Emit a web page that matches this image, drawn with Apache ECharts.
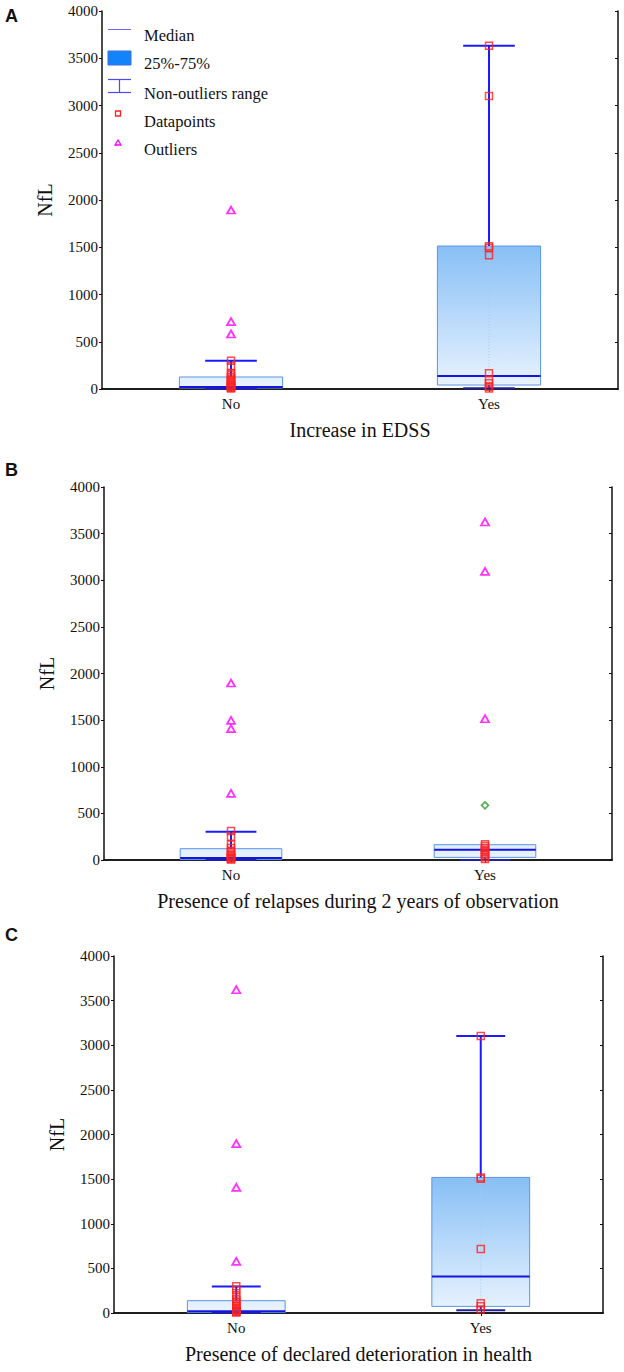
<!DOCTYPE html>
<html><head><meta charset="utf-8">
<script src="https://cdn.jsdelivr.net/npm/echarts@6/dist/echarts.min.js"></script>
<style>html,body{margin:0;padding:0;background:#fff}#c{width:624px;height:1372px}</style>
</head><body><div id="c"></div><script>
// ---------- data ----------
const categories = ['No', 'Yes'];
const yTickLabels = ['0', '500', '1000', '1500', '2000', '2500', '3000', '3500', '4000'];
const xTitles = ['Increase in EDSS', 'Presence of relapses during 2 years of observation', 'Presence of declared deterioration in health'];
const yTitle = 'NfL';
const panelLetters = ['A', 'B', 'C'];

// [low whisker, q1, median, q3, high whisker]
const boxA = [[0, 10, 20, 127, 300], [8, 42, 138, 1513, 3633]];
const boxB = [[0, 5, 21, 121, 303], [0, 28, 110, 164, 164]];
const boxC = [[0, 5, 20, 138, 298], [30, 74, 410, 1519, 3104]];

const pointsA_No = [300, 240, 170, 150, 130, 110, 95, 80, 65, 50, 40, 30, 20, 12, 5];
const pointsA_Yes = [3633, 3100, 1510, 1495, 1415, 166, 100, 60, 25, 5];
const pointsB_No = [310, 250, 165, 130, 100, 80, 60, 45, 30, 20, 10, 5];
const pointsB_Yes = [170, 150, 130, 110, 90, 70, 50, 30, 10];
const pointsC_No = [300, 260, 200, 160, 140, 120, 100, 80, 60, 45, 30, 20, 10, 5];
const pointsC_Yes = [3104, 1519, 1505, 717, 110, 75, 40];

const outliersA_No = [1894, 712, 582];
const outliersA_Yes = [];
const outliersB_No = [1898, 1497, 1408, 714];
const outliersB_Yes = [3625, 3095, 1515];
const outliersC_No = [3622, 1897, 1407, 578];
const outliersC_Yes = [];

const extremesB_Yes = [586];

// ---------- layout ----------
const grids = [
  { left: 102, top: 11, right: 6, height: 378 },
  { left: 104, top: 487, right: 12, height: 373 },
  { left: 114, top: 956, right: 21, height: 357 }
];
const letterY = [16, 470, 935];
const SERIF = '"Liberation Serif", "Times New Roman", serif';

const panels = [
  { box: boxA, pts: [pointsA_No, pointsA_Yes], out: [outliersA_No, outliersA_Yes], ext: [[], []] },
  { box: boxB, pts: [pointsB_No, pointsB_Yes], out: [outliersB_No, outliersB_Yes], ext: [[], extremesB_Yes] },
  { box: boxC, pts: [pointsC_No, pointsC_Yes], out: [outliersC_No, outliersC_Yes], ext: [[], []] }
];

function renderBox(params, api) {
  const c = api.value(0);
  const low = api.value(1), q1 = api.value(2), med = api.value(3), q3 = api.value(4), high = api.value(5);
  const band = api.size([1, 0])[0];
  const bw = band * 0.4, cw = band * 0.2;
  const P = v => api.coord([c, v]);
  const cx = P(q1)[0];
  const yLow = P(low)[1], yQ1 = P(q1)[1], yMed = P(med)[1], yQ3 = P(q3)[1], yHigh = P(high)[1];
  const gTop = P(1600)[1], gBot = P(0)[1];
  const blue = '#1a1aff';
  const ch = [];
  ch.push({ type: 'rect', shape: { x: cx - bw / 2, y: yQ3, width: bw, height: yQ1 - yQ3 },
    style: { fill: { type: 'linear', x: 0, y: gTop, x2: 0, y2: gBot, global: true,
      colorStops: [{ offset: 0, color: '#82bcf5' }, { offset: 1, color: '#eaf4ff' }] },
      stroke: '#5b95e5', lineWidth: 1 } });
  ch.push({ type: 'line', shape: { x1: cx, y1: yQ3, x2: cx, y2: yQ1 },
    style: { stroke: '#a4cbf2', lineWidth: 1, lineDash: [1, 2] } });
  if (high > q3) {
    ch.push({ type: 'line', shape: { x1: cx, y1: yQ3, x2: cx, y2: yHigh }, style: { stroke: blue, lineWidth: 2 } });
    ch.push({ type: 'line', shape: { x1: cx - cw / 2, y1: yHigh, x2: cx + cw / 2, y2: yHigh }, style: { stroke: blue, lineWidth: 2 } });
  }
  if (low < q1) {
    ch.push({ type: 'line', shape: { x1: cx, y1: yQ1, x2: cx, y2: yLow }, style: { stroke: blue, lineWidth: 2 } });
    ch.push({ type: 'line', shape: { x1: cx - cw / 2, y1: yLow, x2: cx + cw / 2, y2: yLow }, style: { stroke: '#2020a0', lineWidth: 2 } });
  }
  ch.push({ type: 'line', shape: { x1: cx - bw / 2, y1: yMed, x2: cx + bw / 2, y2: yMed }, style: { stroke: '#1515e0', lineWidth: 2 } });
  return { type: 'group', children: ch };
}

const option = {
  animation: false,
  backgroundColor: '#fff',
  grid: grids.map(g => Object.assign({ containLabel: false }, g)),
  xAxis: [], yAxis: [], series: [], graphic: []
};

panels.forEach((p, i) => {
  option.xAxis.push({
    type: 'category', gridIndex: i, data: categories, position: 'bottom',
    name: xTitles[i], nameLocation: 'middle', nameGap: 31,
    nameTextStyle: { fontFamily: SERIF, fontSize: 20, color: '#111' },
    axisLine: { show: true, lineStyle: { color: '#111', width: 1.5 } },
    axisTick: { show: true, inside: true, alignWithLabel: true, length: 3, lineStyle: { color: '#111' } },
    axisLabel: { fontFamily: SERIF, fontSize: 15, color: '#111', margin: 7 },
    splitLine: { show: false }
  });
  option.xAxis.push({
    type: 'category', gridIndex: i, data: categories, position: 'top',
    axisLine: { show: true, lineStyle: { color: '#111', width: 1.5 } },
    axisTick: { show: true, inside: true, alignWithLabel: true, length: 3, lineStyle: { color: '#111' } },
    axisLabel: { show: false }, splitLine: { show: false }
  });
  option.yAxis.push({
    type: 'value', gridIndex: i, min: 0, max: 4000, interval: 500, position: 'left',
    name: yTitle, nameLocation: 'middle', nameGap: 47,
    nameTextStyle: { fontFamily: SERIF, fontSize: 20, color: '#111' },
    axisLine: { show: true, lineStyle: { color: '#111', width: 1.5 } },
    axisTick: { show: true, length: 3, lineStyle: { color: '#111' } },
    axisLabel: { fontFamily: SERIF, fontSize: 15, color: '#111', margin: 4,
      formatter: v => yTickLabels[Math.round(v / 500)] },
    splitLine: { show: false }
  });
  option.yAxis.push({
    type: 'value', gridIndex: i, min: 0, max: 4000, interval: 500, position: 'right',
    axisLine: { show: true, lineStyle: { color: '#111', width: 1.5 } },
    axisTick: { show: true, inside: true, length: 3, lineStyle: { color: '#111' } },
    axisLabel: { show: false }, splitLine: { show: false }
  });

  const xi = 2 * i, yi = 2 * i;
  option.series.push({
    type: 'custom', name: '25%-75%', xAxisIndex: xi, yAxisIndex: yi,
    renderItem: renderBox, encode: { x: 0, y: [1, 2, 3, 4, 5] },
    data: p.box.map((b, k) => [k].concat(b)), z: 2
  });
  const pts = [], outs = [], exts = [];
  categories.forEach((cat, k) => {
    p.pts[k].forEach(v => pts.push([cat, v]));
    p.out[k].forEach(v => outs.push([cat, v]));
    p.ext[k].forEach(v => exts.push([cat, v]));
  });
  option.series.push({
    type: 'scatter', name: 'Datapoints', xAxisIndex: xi, yAxisIndex: yi, data: pts,
    symbol: 'rect', symbolSize: 7, z: 4,
    itemStyle: { color: 'rgba(255,255,255,0)', borderColor: '#ff2020', borderWidth: 1.5 }
  });
  option.series.push({
    type: 'scatter', name: 'Outliers', xAxisIndex: xi, yAxisIndex: yi, data: outs,
    symbol: 'triangle', symbolSize: [8, 7], z: 4,
    itemStyle: { color: 'rgba(255,255,255,0)', borderColor: '#ff00ff', borderWidth: 1.8 }
  });
  if (exts.length) {
    option.series.push({
      type: 'scatter', name: 'Extremes', xAxisIndex: xi, yAxisIndex: yi, data: exts,
      symbol: 'diamond', symbolSize: 7, z: 4,
      itemStyle: { color: 'rgba(255,255,255,0)', borderColor: '#1f9a1f', borderWidth: 1.5 }
    });
  }
  option.graphic.push({
    type: 'text', x: 5, y: letterY[i],
    style: { text: panelLetters[i], font: 'bold 18px "Liberation Sans", Arial, sans-serif', fill: '#111', verticalAlign: 'middle' }
  });
});

// legend (panel A)
const legendItems = ['Median', '25%-75%', 'Non-outliers range', 'Datapoints', 'Outliers'];
const legendTextY = [35, 63, 93, 121, 149];
legendItems.forEach((t, k) => {
  option.graphic.push({ type: 'text', x: 144, y: legendTextY[k],
    style: { text: t, font: '16.5px ' + SERIF, fill: '#111', verticalAlign: 'middle' } });
});
option.graphic.push(
  { type: 'line', shape: { x1: 108, y1: 29.5, x2: 131, y2: 29.5 }, style: { stroke: '#6a6aff', lineWidth: 1 } },
  { type: 'rect', shape: { x: 108, y: 51, width: 23, height: 14 }, style: { fill: '#1283fa', stroke: '#3d6fd6', lineWidth: 1 } },
  { type: 'line', shape: { x1: 108, y1: 79.5, x2: 131, y2: 79.5 }, style: { stroke: '#4a4aee', lineWidth: 1.2 } },
  { type: 'line', shape: { x1: 119.5, y1: 79.5, x2: 119.5, y2: 92.5 }, style: { stroke: '#4a4aee', lineWidth: 1.2 } },
  { type: 'line', shape: { x1: 108, y1: 92.5, x2: 131, y2: 92.5 }, style: { stroke: '#4a4aee', lineWidth: 1.2 } },
  { type: 'rect', shape: { x: 115.5, y: 111, width: 5, height: 5 }, style: { fill: 'none', stroke: '#ff2020', lineWidth: 1.3 } },
  { type: 'polygon', shape: { points: [[118, 140], [115, 145], [121, 145]] }, style: { fill: 'none', stroke: '#ff00ff', lineWidth: 1.3 } }
);

const chart = echarts.init(document.getElementById('c'), null, { renderer: 'svg', width: 624, height: 1372 });
chart.setOption(option);
</script></body></html>
